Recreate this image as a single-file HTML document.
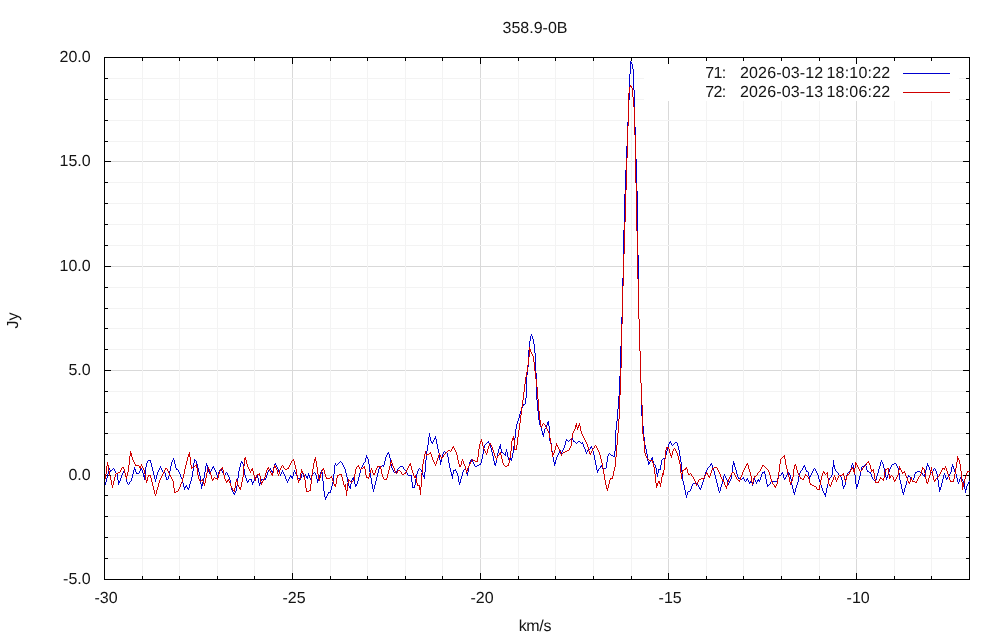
<!DOCTYPE html>
<html lang="en"><head><meta charset="utf-8"><title>358.9-0B</title>
<style>
html,body{margin:0;padding:0;background:#fff;}
body{width:1000px;height:640px;overflow:hidden;}
svg{display:block;will-change:transform;}
text{text-rendering:geometricPrecision;font-family:"Liberation Sans",Arial,sans-serif;font-size:16px;fill:#141414;letter-spacing:0px;}
</style></head><body>
<svg width="1000" height="640" viewBox="0 0 1000 640">
<rect width="1000" height="640" fill="#fff"/>

<g shape-rendering="crispEdges" stroke-width="1" fill="none">
<g stroke="#d9d9d9">
<line x1="292.5" y1="57.5" x2="292.5" y2="579.5"/>
<line x1="480.5" y1="57.5" x2="480.5" y2="579.5"/>
<line x1="668.5" y1="57.5" x2="668.5" y2="579.5"/>
<line x1="856.5" y1="57.5" x2="856.5" y2="579.5"/>
<line x1="104.5" y1="161.5" x2="969.5" y2="161.5"/>
<line x1="104.5" y1="266.5" x2="969.5" y2="266.5"/>
<line x1="104.5" y1="370.5" x2="969.5" y2="370.5"/>
<line x1="104.5" y1="475.5" x2="969.5" y2="475.5"/>
</g>
<g stroke="#f3f3f3">
<line x1="142.5" y1="57.5" x2="142.5" y2="579.5"/>
<line x1="179.5" y1="57.5" x2="179.5" y2="579.5"/>
<line x1="217.5" y1="57.5" x2="217.5" y2="579.5"/>
<line x1="254.5" y1="57.5" x2="254.5" y2="579.5"/>
<line x1="330.5" y1="57.5" x2="330.5" y2="579.5"/>
<line x1="367.5" y1="57.5" x2="367.5" y2="579.5"/>
<line x1="405.5" y1="57.5" x2="405.5" y2="579.5"/>
<line x1="442.5" y1="57.5" x2="442.5" y2="579.5"/>
<line x1="518.5" y1="57.5" x2="518.5" y2="579.5"/>
<line x1="555.5" y1="57.5" x2="555.5" y2="579.5"/>
<line x1="593.5" y1="57.5" x2="593.5" y2="579.5"/>
<line x1="631.5" y1="57.5" x2="631.5" y2="579.5"/>
<line x1="706.5" y1="57.5" x2="706.5" y2="579.5"/>
<line x1="743.5" y1="57.5" x2="743.5" y2="579.5"/>
<line x1="781.5" y1="57.5" x2="781.5" y2="579.5"/>
<line x1="819.5" y1="57.5" x2="819.5" y2="579.5"/>
<line x1="894.5" y1="57.5" x2="894.5" y2="579.5"/>
<line x1="931.5" y1="57.5" x2="931.5" y2="579.5"/>
<line x1="104.5" y1="558.5" x2="969.5" y2="558.5"/>
<line x1="104.5" y1="537.5" x2="969.5" y2="537.5"/>
<line x1="104.5" y1="516.5" x2="969.5" y2="516.5"/>
<line x1="104.5" y1="495.5" x2="969.5" y2="495.5"/>
<line x1="104.5" y1="454.5" x2="969.5" y2="454.5"/>
<line x1="104.5" y1="433.5" x2="969.5" y2="433.5"/>
<line x1="104.5" y1="412.5" x2="969.5" y2="412.5"/>
<line x1="104.5" y1="391.5" x2="969.5" y2="391.5"/>
<line x1="104.5" y1="349.5" x2="969.5" y2="349.5"/>
<line x1="104.5" y1="328.5" x2="969.5" y2="328.5"/>
<line x1="104.5" y1="308.5" x2="969.5" y2="308.5"/>
<line x1="104.5" y1="287.5" x2="969.5" y2="287.5"/>
<line x1="104.5" y1="245.5" x2="969.5" y2="245.5"/>
<line x1="104.5" y1="224.5" x2="969.5" y2="224.5"/>
<line x1="104.5" y1="203.5" x2="969.5" y2="203.5"/>
<line x1="104.5" y1="182.5" x2="969.5" y2="182.5"/>
<line x1="104.5" y1="141.5" x2="969.5" y2="141.5"/>
<line x1="104.5" y1="120.5" x2="969.5" y2="120.5"/>
<line x1="104.5" y1="99.5" x2="969.5" y2="99.5"/>
<line x1="104.5" y1="78.5" x2="969.5" y2="78.5"/>
</g>
<rect x="644" y="58" width="315" height="43" fill="#fff" stroke="none"/>
<line x1="903" y1="73.5" x2="950" y2="73.5" stroke="#0000d0"/>
<line x1="903" y1="92.5" x2="950" y2="92.5" stroke="#d00000"/>
<g stroke="#000">
<line x1="142.5" y1="579.5" x2="142.5" y2="576.0"/>
<line x1="142.5" y1="57.5" x2="142.5" y2="61.0"/>
<line x1="179.5" y1="579.5" x2="179.5" y2="576.0"/>
<line x1="179.5" y1="57.5" x2="179.5" y2="61.0"/>
<line x1="217.5" y1="579.5" x2="217.5" y2="576.0"/>
<line x1="217.5" y1="57.5" x2="217.5" y2="61.0"/>
<line x1="254.5" y1="579.5" x2="254.5" y2="576.0"/>
<line x1="254.5" y1="57.5" x2="254.5" y2="61.0"/>
<line x1="292.5" y1="579.5" x2="292.5" y2="573.0"/>
<line x1="292.5" y1="57.5" x2="292.5" y2="64.0"/>
<line x1="330.5" y1="579.5" x2="330.5" y2="576.0"/>
<line x1="330.5" y1="57.5" x2="330.5" y2="61.0"/>
<line x1="367.5" y1="579.5" x2="367.5" y2="576.0"/>
<line x1="367.5" y1="57.5" x2="367.5" y2="61.0"/>
<line x1="405.5" y1="579.5" x2="405.5" y2="576.0"/>
<line x1="405.5" y1="57.5" x2="405.5" y2="61.0"/>
<line x1="442.5" y1="579.5" x2="442.5" y2="576.0"/>
<line x1="442.5" y1="57.5" x2="442.5" y2="61.0"/>
<line x1="480.5" y1="579.5" x2="480.5" y2="573.0"/>
<line x1="480.5" y1="57.5" x2="480.5" y2="64.0"/>
<line x1="518.5" y1="579.5" x2="518.5" y2="576.0"/>
<line x1="518.5" y1="57.5" x2="518.5" y2="61.0"/>
<line x1="555.5" y1="579.5" x2="555.5" y2="576.0"/>
<line x1="555.5" y1="57.5" x2="555.5" y2="61.0"/>
<line x1="593.5" y1="579.5" x2="593.5" y2="576.0"/>
<line x1="593.5" y1="57.5" x2="593.5" y2="61.0"/>
<line x1="631.5" y1="579.5" x2="631.5" y2="576.0"/>
<line x1="631.5" y1="57.5" x2="631.5" y2="61.0"/>
<line x1="668.5" y1="579.5" x2="668.5" y2="573.0"/>
<line x1="668.5" y1="57.5" x2="668.5" y2="64.0"/>
<line x1="706.5" y1="579.5" x2="706.5" y2="576.0"/>
<line x1="706.5" y1="57.5" x2="706.5" y2="61.0"/>
<line x1="743.5" y1="579.5" x2="743.5" y2="576.0"/>
<line x1="743.5" y1="57.5" x2="743.5" y2="61.0"/>
<line x1="781.5" y1="579.5" x2="781.5" y2="576.0"/>
<line x1="781.5" y1="57.5" x2="781.5" y2="61.0"/>
<line x1="819.5" y1="579.5" x2="819.5" y2="576.0"/>
<line x1="819.5" y1="57.5" x2="819.5" y2="61.0"/>
<line x1="856.5" y1="579.5" x2="856.5" y2="573.0"/>
<line x1="856.5" y1="57.5" x2="856.5" y2="64.0"/>
<line x1="894.5" y1="579.5" x2="894.5" y2="576.0"/>
<line x1="894.5" y1="57.5" x2="894.5" y2="61.0"/>
<line x1="931.5" y1="579.5" x2="931.5" y2="576.0"/>
<line x1="931.5" y1="57.5" x2="931.5" y2="61.0"/>
<line x1="969.5" y1="579.5" x2="969.5" y2="576.0"/>
<line x1="969.5" y1="57.5" x2="969.5" y2="61.0"/>
<line x1="104.5" y1="558.5" x2="108.0" y2="558.5"/>
<line x1="969.5" y1="558.5" x2="966.0" y2="558.5"/>
<line x1="104.5" y1="537.5" x2="108.0" y2="537.5"/>
<line x1="969.5" y1="537.5" x2="966.0" y2="537.5"/>
<line x1="104.5" y1="516.5" x2="108.0" y2="516.5"/>
<line x1="969.5" y1="516.5" x2="966.0" y2="516.5"/>
<line x1="104.5" y1="495.5" x2="108.0" y2="495.5"/>
<line x1="969.5" y1="495.5" x2="966.0" y2="495.5"/>
<line x1="104.5" y1="475.5" x2="111.0" y2="475.5"/>
<line x1="969.5" y1="475.5" x2="963.0" y2="475.5"/>
<line x1="104.5" y1="454.5" x2="108.0" y2="454.5"/>
<line x1="969.5" y1="454.5" x2="966.0" y2="454.5"/>
<line x1="104.5" y1="433.5" x2="108.0" y2="433.5"/>
<line x1="969.5" y1="433.5" x2="966.0" y2="433.5"/>
<line x1="104.5" y1="412.5" x2="108.0" y2="412.5"/>
<line x1="969.5" y1="412.5" x2="966.0" y2="412.5"/>
<line x1="104.5" y1="391.5" x2="108.0" y2="391.5"/>
<line x1="969.5" y1="391.5" x2="966.0" y2="391.5"/>
<line x1="104.5" y1="370.5" x2="111.0" y2="370.5"/>
<line x1="969.5" y1="370.5" x2="963.0" y2="370.5"/>
<line x1="104.5" y1="349.5" x2="108.0" y2="349.5"/>
<line x1="969.5" y1="349.5" x2="966.0" y2="349.5"/>
<line x1="104.5" y1="328.5" x2="108.0" y2="328.5"/>
<line x1="969.5" y1="328.5" x2="966.0" y2="328.5"/>
<line x1="104.5" y1="308.5" x2="108.0" y2="308.5"/>
<line x1="969.5" y1="308.5" x2="966.0" y2="308.5"/>
<line x1="104.5" y1="287.5" x2="108.0" y2="287.5"/>
<line x1="969.5" y1="287.5" x2="966.0" y2="287.5"/>
<line x1="104.5" y1="266.5" x2="111.0" y2="266.5"/>
<line x1="969.5" y1="266.5" x2="963.0" y2="266.5"/>
<line x1="104.5" y1="245.5" x2="108.0" y2="245.5"/>
<line x1="969.5" y1="245.5" x2="966.0" y2="245.5"/>
<line x1="104.5" y1="224.5" x2="108.0" y2="224.5"/>
<line x1="969.5" y1="224.5" x2="966.0" y2="224.5"/>
<line x1="104.5" y1="203.5" x2="108.0" y2="203.5"/>
<line x1="969.5" y1="203.5" x2="966.0" y2="203.5"/>
<line x1="104.5" y1="182.5" x2="108.0" y2="182.5"/>
<line x1="969.5" y1="182.5" x2="966.0" y2="182.5"/>
<line x1="104.5" y1="161.5" x2="111.0" y2="161.5"/>
<line x1="969.5" y1="161.5" x2="963.0" y2="161.5"/>
<line x1="104.5" y1="141.5" x2="108.0" y2="141.5"/>
<line x1="969.5" y1="141.5" x2="966.0" y2="141.5"/>
<line x1="104.5" y1="120.5" x2="108.0" y2="120.5"/>
<line x1="969.5" y1="120.5" x2="966.0" y2="120.5"/>
<line x1="104.5" y1="99.5" x2="108.0" y2="99.5"/>
<line x1="969.5" y1="99.5" x2="966.0" y2="99.5"/>
<line x1="104.5" y1="78.5" x2="108.0" y2="78.5"/>
<line x1="969.5" y1="78.5" x2="966.0" y2="78.5"/>
</g>
<rect x="104.5" y="57.5" width="865.0" height="522.0" stroke="#000"/>
<path stroke="#0000d0" d="M105.5 482v3M106.5 478v4M107.5 474v4M108.5 470v4M109.5 468v2M110.5 470v2M111.5 470v1M112.5 469v1M113.5 468v1M114.5 469v2M115.5 471v2M116.5 473v1M117.5 474v6M118.5 480v5M119.5 481v2M120.5 478v3M121.5 475v3M122.5 473v2M123.5 471v2M124.5 472v1M125.5 473v4M126.5 477v5M127.5 482v2M128.5 484v1M129.5 482v2M130.5 481v1M131.5 478v3M132.5 474v4M133.5 470v4M134.5 467v3M135.5 469v3M136.5 472v2M137.5 473v1M138.5 473v1M139.5 471v2M140.5 469v2M141.5 468v2M142.5 470v3M143.5 473v4M144.5 475v5M145.5 467v8M146.5 463v4M147.5 461v2M148.5 460v1M149.5 460v1M150.5 460v3M151.5 463v4M152.5 467v4M153.5 471v4M154.5 475v4M155.5 479v3M156.5 475v4M157.5 472v3M158.5 470v2M159.5 468v2M160.5 466v2M161.5 468v2M162.5 470v2M163.5 472v1M164.5 472v1M165.5 473v4M166.5 477v3M167.5 479v1M168.5 476v3M169.5 471v5M170.5 466v5M171.5 462v4M172.5 460v2M173.5 458v2M174.5 460v4M175.5 464v4M176.5 468v2M177.5 469v1M178.5 470v2M179.5 472v2M180.5 474v3M181.5 477v2M182.5 479v4M183.5 483v4M184.5 487v3M185.5 486v2M186.5 485v2M187.5 487v2M188.5 488v2M189.5 484v4M190.5 481v3M191.5 477v4M192.5 471v6M193.5 463v8M194.5 459v4M195.5 460v1M196.5 461v3M197.5 464v4M198.5 468v4M199.5 472v4M200.5 476v8M201.5 484v5M202.5 482v4M203.5 478v4M204.5 472v6M205.5 466v6M206.5 463v3M207.5 465v4M208.5 469v3M209.5 472v2M210.5 471v1M211.5 469v2M212.5 467v2M213.5 466v2M214.5 468v2M215.5 470v2M216.5 472v3M217.5 475v3M218.5 472v4M219.5 470v2M220.5 470v1M221.5 469v2M222.5 471v2M223.5 473v2M224.5 475v1M225.5 473v2M226.5 472v1M227.5 473v2M228.5 475v2M229.5 477v3M230.5 480v6M231.5 486v4M232.5 490v2M233.5 492v2M234.5 493v2M235.5 491v2M236.5 486v5M237.5 478v8M238.5 471v7M239.5 467v4M240.5 463v4M241.5 461v2M242.5 462v2M243.5 464v5M244.5 469v6M245.5 475v3M246.5 478v3M247.5 481v2M248.5 480v2M249.5 479v1M250.5 479v1M251.5 479v3M252.5 482v3M253.5 481v2M254.5 479v2M255.5 477v2M256.5 476v1M257.5 475v3M258.5 478v5M259.5 483v3M260.5 481v3M261.5 479v2M262.5 479v1M263.5 479v1M264.5 479v1M265.5 478v2M266.5 475v3M267.5 472v3M268.5 470v2M269.5 469v1M270.5 468v2M271.5 470v2M272.5 471v3M273.5 467v4M274.5 464v3M275.5 463v2M276.5 465v2M277.5 467v2M278.5 469v3M279.5 472v2M280.5 474v2M281.5 472v2M282.5 470v2M283.5 472v2M284.5 474v2M285.5 476v3M286.5 479v2M287.5 481v2M288.5 479v2M289.5 477v2M290.5 475v2M291.5 476v2M292.5 476v3M293.5 472v4M294.5 470v2M295.5 472v2M296.5 474v2M297.5 476v2M298.5 478v1M299.5 478v1M300.5 478v2M301.5 474v4M302.5 472v2M303.5 474v3M304.5 476v3M305.5 474v2M306.5 476v2M307.5 476v3M308.5 473v3M309.5 475v3M310.5 478v2M311.5 476v2M312.5 474v2M313.5 473v1M314.5 472v1M315.5 473v2M316.5 475v4M317.5 479v4M318.5 478v3M319.5 475v3M320.5 472v3M321.5 470v2M322.5 472v9M323.5 481v10M324.5 491v6M325.5 497v3M326.5 496v2M327.5 494v2M328.5 492v2M329.5 492v1M330.5 490v3M331.5 486v4M332.5 482v4M333.5 474v8M334.5 465v9M335.5 463v2M336.5 465v1M337.5 464v1M338.5 463v1M339.5 462v1M340.5 461v1M341.5 462v1M342.5 463v2M343.5 465v2M344.5 467v2M345.5 469v4M346.5 473v4M347.5 477v5M348.5 482v4M349.5 486v2M350.5 484v5M351.5 480v4M352.5 478v2M353.5 477v3M354.5 480v4M355.5 484v3M356.5 484v2M357.5 481v3M358.5 477v4M359.5 473v4M360.5 469v4M361.5 467v2M362.5 465v2M363.5 463v2M364.5 462v1M365.5 458v4M366.5 455v3M367.5 457v2M368.5 459v5M369.5 464v8M370.5 472v6M371.5 478v6M372.5 484v5M373.5 489v3M374.5 485v4M375.5 481v4M376.5 477v4M377.5 473v4M378.5 469v4M379.5 467v2M380.5 466v1M381.5 466v1M382.5 465v1M383.5 465v2M384.5 461v4M385.5 457v4M386.5 455v2M387.5 453v2M388.5 452v2M389.5 454v4M390.5 458v6M391.5 464v4M392.5 468v2M393.5 470v2M394.5 472v1M395.5 472v1M396.5 471v2M397.5 469v2M398.5 468v1M399.5 467v1M400.5 466v1M401.5 466v1M402.5 466v1M403.5 467v2M404.5 469v1M405.5 470v1M406.5 471v2M407.5 473v2M408.5 475v1M409.5 475v1M410.5 475v1M411.5 475v7M412.5 482v6M413.5 487v1M414.5 485v3M415.5 479v6M416.5 474v5M417.5 471v3M418.5 469v2M419.5 468v1M420.5 469v1M421.5 470v2M422.5 472v3M423.5 475v2M424.5 472v7M425.5 460v12M426.5 451v9M427.5 445v6M428.5 437v8M429.5 433v4M430.5 437v4M431.5 441v2M432.5 442v2M433.5 440v2M434.5 438v2M435.5 436v3M436.5 439v5M437.5 444v5M438.5 449v4M439.5 453v7M440.5 460v5M441.5 457v5M442.5 454v3M443.5 452v2M444.5 451v1M445.5 452v1M446.5 452v1M447.5 453v4M448.5 457v6M449.5 463v5M450.5 468v4M451.5 472v4M452.5 474v5M453.5 470v4M454.5 470v1M455.5 469v2M456.5 471v2M457.5 473v3M458.5 476v6M459.5 482v3M460.5 479v4M461.5 476v3M462.5 472v4M463.5 470v2M464.5 469v1M465.5 468v2M466.5 470v4M467.5 472v4M468.5 466v6M469.5 462v4M470.5 460v2M471.5 459v1M472.5 460v2M473.5 462v2M474.5 464v2M475.5 466v1M476.5 466v1M477.5 465v1M478.5 465v1M479.5 464v1M480.5 463v2M481.5 459v4M482.5 454v5M483.5 448v6M484.5 445v3M485.5 444v1M486.5 443v1M487.5 442v1M488.5 441v2M489.5 443v2M490.5 445v3M491.5 448v4M492.5 452v4M493.5 456v5M494.5 461v4M495.5 463v3M496.5 458v5M497.5 453v5M498.5 449v4M499.5 446v3M500.5 444v5M501.5 449v4M502.5 452v1M503.5 453v1M504.5 454v1M505.5 452v4M506.5 449v3M507.5 452v5M508.5 457v3M509.5 459v1M510.5 458v2M511.5 458v3M512.5 453v5M513.5 446v7M514.5 438v8M515.5 429v9M516.5 424v5M517.5 421v3M518.5 418v3M519.5 414v4M520.5 411v3M521.5 408v3M522.5 406v2M523.5 404v2M524.5 404v1M525.5 398v6M526.5 375v23M527.5 367v8M528.5 350v17M529.5 341v9M530.5 336v5M531.5 334v2M532.5 336v3M533.5 339v5M534.5 344v9M535.5 353v20M536.5 373v27M537.5 400v11M538.5 411v9M539.5 420v5M540.5 425v2M541.5 427v4M542.5 431v4M543.5 433v4M544.5 429v4M545.5 428v1M546.5 425v3M547.5 422v3M548.5 421v5M549.5 426v15M550.5 441v2M551.5 443v8M552.5 451v6M553.5 457v5M554.5 462v4M555.5 460v4M556.5 457v3M557.5 455v2M558.5 453v2M559.5 451v2M560.5 450v2M561.5 452v2M562.5 450v2M563.5 448v2M564.5 445v3M565.5 441v4M566.5 439v2M567.5 440v1M568.5 441v1M569.5 440v1M570.5 439v1M571.5 438v1M572.5 437v3M573.5 440v2M574.5 441v1M575.5 442v1M576.5 443v1M577.5 442v1M578.5 441v1M579.5 441v1M580.5 442v1M581.5 443v1M582.5 442v2M583.5 444v3M584.5 447v2M585.5 449v3M586.5 452v2M587.5 450v2M588.5 449v1M589.5 449v1M590.5 447v2M591.5 446v2M592.5 448v3M593.5 451v4M594.5 455v5M595.5 460v5M596.5 465v5M597.5 470v3M598.5 469v2M599.5 468v1M600.5 466v2M601.5 465v2M602.5 467v2M603.5 469v1M604.5 468v1M605.5 468v1M606.5 462v6M607.5 456v6M608.5 454v2M609.5 453v1M610.5 454v1M611.5 455v1M612.5 455v1M613.5 456v1M614.5 451v6M615.5 430v21M616.5 421v9M617.5 409v12M618.5 396v13M619.5 376v20M620.5 346v30M621.5 317v29M622.5 278v39M623.5 230v48M624.5 194v36M625.5 170v24M626.5 146v24M627.5 122v24M628.5 100v22M629.5 74v26M630.5 61v13M631.5 62v2M632.5 64v5M633.5 69v21M634.5 90v37M635.5 127v32M636.5 159v32M637.5 191v64M638.5 255v64M639.5 319v32M640.5 351v32M641.5 383v33M642.5 416v10M643.5 426v11M644.5 437v8M645.5 445v4M646.5 449v5M647.5 454v7M648.5 461v4M649.5 462v2M650.5 460v2M651.5 458v2M652.5 457v4M653.5 461v3M654.5 464v1M655.5 465v3M656.5 468v6M657.5 473v4M658.5 469v4M659.5 469v1M660.5 465v5M661.5 460v5M662.5 459v1M663.5 458v1M664.5 458v2M665.5 455v3M666.5 451v4M667.5 447v4M668.5 444v3M669.5 442v2M670.5 441v2M671.5 443v2M672.5 445v1M673.5 444v1M674.5 443v1M675.5 442v1M676.5 442v1M677.5 443v3M678.5 446v4M679.5 450v6M680.5 456v6M681.5 462v10M682.5 472v9M683.5 481v4M684.5 485v5M685.5 490v5M686.5 495v3M687.5 492v3M688.5 491v1M689.5 491v1M690.5 489v2M691.5 486v3M692.5 484v2M693.5 483v1M694.5 483v1M695.5 482v1M696.5 483v1M697.5 484v1M698.5 485v2M699.5 487v2M700.5 488v2M701.5 485v3M702.5 482v3M703.5 479v3M704.5 475v4M705.5 472v3M706.5 470v2M707.5 468v2M708.5 467v1M709.5 466v1M710.5 464v2M711.5 463v2M712.5 465v3M713.5 468v3M714.5 471v4M715.5 475v4M716.5 479v4M717.5 483v4M718.5 487v4M719.5 491v2M720.5 487v4M721.5 484v3M722.5 480v4M723.5 476v4M724.5 474v2M725.5 476v2M726.5 478v2M727.5 480v3M728.5 483v2M729.5 481v2M730.5 479v2M731.5 473v6M732.5 465v8M733.5 461v4M734.5 463v4M735.5 467v3M736.5 470v4M737.5 474v3M738.5 477v2M739.5 478v1M740.5 479v1M741.5 479v1M742.5 478v1M743.5 477v2M744.5 479v2M745.5 481v1M746.5 479v2M747.5 478v2M748.5 480v2M749.5 482v2M750.5 481v2M751.5 480v3M752.5 483v3M753.5 480v4M754.5 478v2M755.5 480v2M756.5 482v2M757.5 480v2M758.5 479v2M759.5 480v2M760.5 477v3M761.5 474v3M762.5 472v2M763.5 472v1M764.5 471v3M765.5 474v5M766.5 479v5M767.5 484v3M768.5 485v1M769.5 484v1M770.5 482v2M771.5 481v1M772.5 481v1M773.5 481v1M774.5 481v1M775.5 481v1M776.5 481v1M777.5 478v4M778.5 475v3M779.5 475v1M780.5 475v1M781.5 473v2M782.5 472v2M783.5 474v4M784.5 478v2M785.5 477v2M786.5 475v2M787.5 473v2M788.5 472v1M789.5 473v2M790.5 475v4M791.5 479v6M792.5 485v4M793.5 489v4M794.5 492v3M795.5 488v4M796.5 485v3M797.5 482v3M798.5 476v6M799.5 473v3M800.5 471v2M801.5 470v1M802.5 468v2M803.5 466v2M804.5 465v2M805.5 467v3M806.5 470v2M807.5 471v1M808.5 472v4M809.5 476v3M810.5 475v2M811.5 473v2M812.5 471v2M813.5 469v2M814.5 468v1M815.5 469v2M816.5 471v2M817.5 473v2M818.5 475v4M819.5 479v3M820.5 482v3M821.5 485v3M822.5 488v3M823.5 491v2M824.5 493v2M825.5 493v4M826.5 488v5M827.5 484v4M828.5 480v4M829.5 478v2M830.5 477v1M831.5 475v2M832.5 467v8M833.5 460v7M834.5 465v4M835.5 469v2M836.5 471v1M837.5 472v1M838.5 473v2M839.5 475v1M840.5 476v1M841.5 477v3M842.5 480v6M843.5 486v3M844.5 485v2M845.5 479v6M846.5 475v4M847.5 473v2M848.5 472v1M849.5 471v1M850.5 469v2M851.5 465v4M852.5 463v2M853.5 465v4M854.5 469v6M855.5 475v9M856.5 484v5M857.5 484v3M858.5 480v4M859.5 476v4M860.5 471v5M861.5 467v4M862.5 466v1M863.5 466v1M864.5 465v1M865.5 464v2M866.5 466v4M867.5 470v2M868.5 471v1M869.5 472v1M870.5 472v2M871.5 474v3M872.5 477v2M873.5 479v1M874.5 480v1M875.5 480v2M876.5 476v4M877.5 473v3M878.5 469v4M879.5 466v3M880.5 462v4M881.5 460v2M882.5 462v2M883.5 464v4M884.5 468v4M885.5 472v5M886.5 477v3M887.5 475v3M888.5 472v3M889.5 469v3M890.5 467v2M891.5 465v2M892.5 464v1M893.5 464v1M894.5 463v1M895.5 463v1M896.5 464v2M897.5 466v2M898.5 468v5M899.5 473v7M900.5 480v4M901.5 484v5M902.5 489v4M903.5 492v3M904.5 488v4M905.5 485v3M906.5 481v4M907.5 477v4M908.5 475v2M909.5 476v1M910.5 477v2M911.5 479v1M912.5 480v1M913.5 478v2M914.5 474v4M915.5 472v2M916.5 472v1M917.5 471v1M918.5 471v1M919.5 471v1M920.5 472v1M921.5 472v1M922.5 473v2M923.5 475v1M924.5 474v3M925.5 470v4M926.5 466v4M927.5 463v3M928.5 465v2M929.5 467v3M930.5 470v2M931.5 472v1M932.5 471v1M933.5 469v2M934.5 468v1M935.5 469v2M936.5 471v3M937.5 474v6M938.5 480v7M939.5 487v5M940.5 487v3M941.5 483v4M942.5 479v4M943.5 475v4M944.5 473v2M945.5 475v3M946.5 478v2M947.5 477v2M948.5 476v1M949.5 474v2M950.5 472v2M951.5 467v5M952.5 464v3M953.5 466v3M954.5 469v3M955.5 472v2M956.5 474v4M957.5 478v4M958.5 482v2M959.5 479v3M960.5 477v2M961.5 477v2M962.5 479v2M963.5 481v2M964.5 483v6M965.5 489v4M966.5 486v4M967.5 484v2M968.5 482v2M969.5 481v1"/>
<path stroke="#d00000" d="M105.5 474v5M106.5 466v8M107.5 462v4M108.5 465v6M109.5 471v5M110.5 476v4M111.5 480v5M112.5 485v3M113.5 481v4M114.5 477v4M115.5 474v3M116.5 473v1M117.5 473v1M118.5 472v1M119.5 472v1M120.5 470v2M121.5 468v2M122.5 467v1M123.5 467v2M124.5 469v4M125.5 473v4M126.5 476v3M127.5 472v4M128.5 465v7M129.5 456v9M130.5 451v5M131.5 453v4M132.5 457v3M133.5 460v2M134.5 462v2M135.5 464v2M136.5 465v1M137.5 465v1M138.5 465v1M139.5 466v2M140.5 466v3M141.5 464v2M142.5 466v2M143.5 468v2M144.5 470v4M145.5 474v6M146.5 480v3M147.5 477v4M148.5 475v2M149.5 475v1M150.5 475v3M151.5 478v4M152.5 482v4M153.5 486v4M154.5 490v4M155.5 494v2M156.5 490v4M157.5 487v3M158.5 483v4M159.5 480v3M160.5 478v2M161.5 476v2M162.5 474v2M163.5 472v2M164.5 470v2M165.5 468v2M166.5 468v1M167.5 469v2M168.5 471v2M169.5 473v2M170.5 475v2M171.5 477v2M172.5 479v2M173.5 481v7M174.5 488v5M175.5 492v1M176.5 491v1M177.5 491v1M178.5 489v2M179.5 487v2M180.5 484v3M181.5 482v2M182.5 478v4M183.5 474v4M184.5 469v5M185.5 465v4M186.5 461v4M187.5 457v4M188.5 454v3M189.5 452v5M190.5 457v8M191.5 465v4M192.5 467v1M193.5 467v1M194.5 466v1M195.5 465v1M196.5 464v4M197.5 468v7M198.5 475v4M199.5 479v2M200.5 481v1M201.5 480v1M202.5 479v2M203.5 481v3M204.5 483v3M205.5 478v5M206.5 473v5M207.5 469v4M208.5 467v2M209.5 469v3M210.5 472v3M211.5 475v4M212.5 479v2M213.5 478v2M214.5 477v1M215.5 478v1M216.5 478v1M217.5 478v2M218.5 474v4M219.5 471v3M220.5 469v2M221.5 468v1M222.5 467v3M223.5 470v5M224.5 475v4M225.5 479v2M226.5 481v2M227.5 480v2M228.5 479v2M229.5 481v2M230.5 483v3M231.5 486v2M232.5 488v2M233.5 490v1M234.5 488v4M235.5 482v6M236.5 479v3M237.5 481v4M238.5 485v2M239.5 487v2M240.5 487v3M241.5 482v5M242.5 477v5M243.5 466v11M244.5 458v8M245.5 457v3M246.5 460v4M247.5 464v3M248.5 467v2M249.5 469v2M250.5 471v2M251.5 469v2M252.5 468v3M253.5 471v4M254.5 475v4M255.5 478v3M256.5 475v3M257.5 474v1M258.5 474v1M259.5 473v3M260.5 476v6M261.5 482v3M262.5 481v2M263.5 479v2M264.5 477v2M265.5 473v4M266.5 470v3M267.5 468v2M268.5 467v2M269.5 469v2M270.5 471v2M271.5 473v2M272.5 473v3M273.5 468v5M274.5 465v3M275.5 466v2M276.5 468v2M277.5 470v4M278.5 474v2M279.5 470v4M280.5 468v2M281.5 466v2M282.5 465v1M283.5 466v2M284.5 468v1M285.5 469v1M286.5 469v1M287.5 468v1M288.5 467v2M289.5 465v2M290.5 463v2M291.5 461v2M292.5 460v1M293.5 459v2M294.5 461v4M295.5 465v4M296.5 469v6M297.5 475v5M298.5 480v3M299.5 479v2M300.5 473v6M301.5 469v4M302.5 471v2M303.5 473v2M304.5 475v5M305.5 480v8M306.5 488v4M307.5 491v1M308.5 491v1M309.5 490v1M310.5 484v7M311.5 475v9M312.5 469v6M313.5 463v6M314.5 459v4M315.5 457v4M316.5 461v6M317.5 467v7M318.5 474v5M319.5 478v3M320.5 474v4M321.5 471v3M322.5 469v2M323.5 468v2M324.5 470v4M325.5 474v3M326.5 477v2M327.5 478v1M328.5 478v1M329.5 478v1M330.5 477v1M331.5 476v2M332.5 478v3M333.5 481v3M334.5 484v2M335.5 484v3M336.5 478v6M337.5 475v3M338.5 475v1M339.5 474v1M340.5 474v1M341.5 474v3M342.5 477v4M343.5 481v4M344.5 485v2M345.5 484v6M346.5 490v6M347.5 483v8M348.5 479v4M349.5 480v1M350.5 481v1M351.5 482v1M352.5 481v1M353.5 480v1M354.5 474v6M355.5 469v5M356.5 467v2M357.5 466v1M358.5 465v2M359.5 467v2M360.5 469v1M361.5 468v1M362.5 468v1M363.5 467v1M364.5 466v3M365.5 469v6M366.5 475v3M367.5 477v1M368.5 477v2M369.5 473v4M370.5 470v3M371.5 468v2M372.5 470v3M373.5 473v2M374.5 473v2M375.5 470v3M376.5 468v2M377.5 466v2M378.5 466v1M379.5 466v1M380.5 466v3M381.5 469v5M382.5 474v3M383.5 477v2M384.5 479v1M385.5 479v1M386.5 478v2M387.5 474v4M388.5 470v4M389.5 466v4M390.5 462v4M391.5 460v3M392.5 463v3M393.5 466v2M394.5 468v3M395.5 471v2M396.5 473v1M397.5 471v2M398.5 470v1M399.5 470v1M400.5 471v1M401.5 472v2M402.5 474v1M403.5 474v1M404.5 473v1M405.5 472v2M406.5 470v2M407.5 468v2M408.5 466v2M409.5 464v2M410.5 463v3M411.5 466v4M412.5 470v3M413.5 473v3M414.5 476v2M415.5 475v3M416.5 478v5M417.5 483v3M418.5 485v1M419.5 485v5M420.5 487v8M421.5 473v14M422.5 464v9M423.5 459v5M424.5 454v5M425.5 451v3M426.5 454v2M427.5 454v1M428.5 454v1M429.5 453v1M430.5 452v2M431.5 454v3M432.5 457v3M433.5 460v2M434.5 462v2M435.5 464v2M436.5 461v3M437.5 458v3M438.5 455v3M439.5 453v2M440.5 455v2M441.5 457v2M442.5 457v1M443.5 455v2M444.5 454v1M445.5 453v1M446.5 452v1M447.5 451v1M448.5 450v1M449.5 450v1M450.5 451v1M451.5 449v2M452.5 447v2M453.5 446v2M454.5 448v2M455.5 450v2M456.5 452v3M457.5 455v5M458.5 460v4M459.5 464v3M460.5 465v2M461.5 461v4M462.5 459v2M463.5 461v3M464.5 464v2M465.5 466v4M466.5 470v3M467.5 468v3M468.5 466v2M469.5 464v2M470.5 462v2M471.5 460v2M472.5 459v1M473.5 460v1M474.5 460v1M475.5 461v1M476.5 461v1M477.5 457v5M478.5 449v8M479.5 444v5M480.5 441v3M481.5 439v3M482.5 442v4M483.5 446v3M484.5 449v2M485.5 451v2M486.5 453v2M487.5 449v4M488.5 446v3M489.5 444v2M490.5 443v2M491.5 445v2M492.5 447v3M493.5 450v3M494.5 453v3M495.5 456v2M496.5 458v2M497.5 456v2M498.5 455v1M499.5 453v2M500.5 452v3M501.5 455v4M502.5 459v4M503.5 463v2M504.5 465v1M505.5 466v1M506.5 466v1M507.5 465v1M508.5 463v3M509.5 458v5M510.5 451v7M511.5 441v10M512.5 438v3M513.5 436v4M514.5 440v10M515.5 449v1M516.5 445v5M517.5 437v8M518.5 430v7M519.5 423v7M520.5 415v8M521.5 407v8M522.5 400v7M523.5 392v8M524.5 384v8M525.5 377v7M526.5 372v5M527.5 365v7M528.5 357v8M529.5 347v10M530.5 349v3M531.5 352v2M532.5 354v2M533.5 356v6M534.5 362v9M535.5 371v8M536.5 379v8M537.5 387v12M538.5 399v12M539.5 411v9M540.5 420v6M541.5 426v2M542.5 424v2M543.5 423v1M544.5 424v1M545.5 425v2M546.5 427v2M547.5 429v2M548.5 431v2M549.5 433v5M550.5 438v6M551.5 444v8M552.5 452v5M553.5 453v2M554.5 450v3M555.5 446v4M556.5 443v3M557.5 445v2M558.5 447v2M559.5 449v2M560.5 451v3M561.5 454v2M562.5 453v1M563.5 452v1M564.5 452v1M565.5 451v1M566.5 451v1M567.5 450v1M568.5 450v1M569.5 448v2M570.5 446v2M571.5 438v8M572.5 433v5M573.5 431v2M574.5 429v2M575.5 425v4M576.5 423v4M577.5 427v3M578.5 425v3M579.5 423v3M580.5 426v5M581.5 431v3M582.5 434v2M583.5 436v2M584.5 438v2M585.5 440v2M586.5 442v2M587.5 444v3M588.5 447v4M589.5 451v3M590.5 453v2M591.5 451v2M592.5 449v2M593.5 448v1M594.5 446v2M595.5 445v1M596.5 446v2M597.5 448v2M598.5 450v2M599.5 452v3M600.5 455v4M601.5 459v4M602.5 463v5M603.5 468v6M604.5 474v6M605.5 480v5M606.5 485v4M607.5 488v3M608.5 484v4M609.5 480v4M610.5 478v2M611.5 478v1M612.5 476v3M613.5 471v5M614.5 467v4M615.5 457v10M616.5 445v12M617.5 433v12M618.5 419v14M619.5 395v24M620.5 368v27M621.5 324v44M622.5 286v38M623.5 254v32M624.5 222v32M625.5 190v32M626.5 158v32M627.5 126v32M628.5 93v33M629.5 87v6M630.5 85v2M631.5 86v2M632.5 88v9M633.5 97v10M634.5 107v28M635.5 135v48M636.5 183v48M637.5 231v48M638.5 279v40M639.5 319v32M640.5 351v32M641.5 383v22M642.5 405v29M643.5 434v7M644.5 441v12M645.5 453v3M646.5 456v2M647.5 458v1M648.5 459v1M649.5 460v1M650.5 460v1M651.5 460v1M652.5 460v3M653.5 463v4M654.5 467v7M655.5 474v9M656.5 483v5M657.5 483v3M658.5 481v2M659.5 481v3M660.5 483v4M661.5 477v6M662.5 473v4M663.5 470v5M664.5 459v11M665.5 450v9M666.5 447v3M667.5 447v1M668.5 447v2M669.5 449v4M670.5 453v3M671.5 455v3M672.5 451v4M673.5 449v2M674.5 448v1M675.5 449v2M676.5 451v2M677.5 453v3M678.5 456v4M679.5 460v4M680.5 464v9M681.5 473v6M682.5 470v4M683.5 470v1M684.5 469v1M685.5 468v2M686.5 467v2M687.5 469v4M688.5 473v2M689.5 474v1M690.5 473v1M691.5 474v2M692.5 476v1M693.5 477v2M694.5 479v2M695.5 481v3M696.5 484v2M697.5 482v2M698.5 480v2M699.5 479v1M700.5 479v1M701.5 478v1M702.5 478v1M703.5 478v2M704.5 476v2M705.5 474v2M706.5 472v2M707.5 473v2M708.5 475v2M709.5 476v2M710.5 473v3M711.5 470v3M712.5 468v2M713.5 468v1M714.5 467v1M715.5 467v1M716.5 467v1M717.5 468v2M718.5 470v2M719.5 472v2M720.5 474v3M721.5 477v2M722.5 479v2M723.5 480v2M724.5 482v3M725.5 485v2M726.5 486v3M727.5 482v4M728.5 479v3M729.5 477v2M730.5 475v2M731.5 473v2M732.5 472v1M733.5 472v1M734.5 473v2M735.5 475v2M736.5 477v2M737.5 479v1M738.5 480v1M739.5 480v2M740.5 477v3M741.5 475v2M742.5 472v3M743.5 470v2M744.5 468v2M745.5 466v2M746.5 464v2M747.5 463v2M748.5 465v4M749.5 469v3M750.5 472v4M751.5 476v6M752.5 482v3M753.5 478v4M754.5 476v2M755.5 476v1M756.5 475v1M757.5 473v2M758.5 472v1M759.5 471v1M760.5 469v2M761.5 467v2M762.5 465v2M763.5 465v1M764.5 466v1M765.5 467v1M766.5 468v1M767.5 469v1M768.5 470v2M769.5 472v3M770.5 475v4M771.5 479v3M772.5 482v2M773.5 484v1M774.5 485v2M775.5 486v2M776.5 484v2M777.5 479v5M778.5 472v7M779.5 464v8M780.5 459v5M781.5 458v1M782.5 457v1M783.5 456v1M784.5 455v4M785.5 459v6M786.5 465v4M787.5 469v4M788.5 473v4M789.5 477v5M790.5 482v3M791.5 481v2M792.5 477v4M793.5 469v8M794.5 465v4M795.5 464v2M796.5 466v4M797.5 470v3M798.5 473v2M799.5 475v2M800.5 477v2M801.5 478v1M802.5 479v1M803.5 478v2M804.5 476v2M805.5 474v2M806.5 475v1M807.5 476v1M808.5 477v2M809.5 479v4M810.5 483v2M811.5 484v1M812.5 485v1M813.5 485v1M814.5 486v1M815.5 486v1M816.5 487v2M817.5 489v1M818.5 489v1M819.5 485v5M820.5 480v5M821.5 476v4M822.5 473v3M823.5 471v2M824.5 472v2M825.5 474v1M826.5 473v1M827.5 472v6M828.5 478v6M829.5 484v2M830.5 485v2M831.5 482v3M832.5 480v2M833.5 477v3M834.5 475v2M835.5 477v3M836.5 480v2M837.5 478v2M838.5 476v2M839.5 475v1M840.5 475v1M841.5 475v1M842.5 474v1M843.5 473v3M844.5 476v4M845.5 480v2M846.5 476v4M847.5 474v2M848.5 474v1M849.5 472v2M850.5 470v2M851.5 468v2M852.5 467v2M853.5 469v3M854.5 468v6M855.5 462v6M856.5 463v2M857.5 465v2M858.5 467v2M859.5 469v2M860.5 471v1M861.5 470v1M862.5 468v2M863.5 467v1M864.5 466v1M865.5 465v1M866.5 463v2M867.5 462v1M868.5 461v2M869.5 463v2M870.5 465v4M871.5 469v3M872.5 470v1M873.5 469v4M874.5 473v6M875.5 479v4M876.5 482v1M877.5 482v1M878.5 481v2M879.5 479v2M880.5 477v2M881.5 478v1M882.5 479v1M883.5 478v3M884.5 472v6M885.5 469v3M886.5 469v1M887.5 468v1M888.5 468v6M889.5 474v5M890.5 476v2M891.5 475v1M892.5 476v1M893.5 477v3M894.5 480v2M895.5 479v2M896.5 477v2M897.5 475v2M898.5 470v5M899.5 466v4M900.5 468v2M901.5 470v2M902.5 472v2M903.5 472v1M904.5 471v2M905.5 473v3M906.5 476v2M907.5 478v3M908.5 481v2M909.5 482v2M910.5 479v3M911.5 477v3M912.5 480v2M913.5 481v1M914.5 481v1M915.5 482v1M916.5 481v2M917.5 479v2M918.5 477v2M919.5 476v1M920.5 474v2M921.5 470v4M922.5 467v3M923.5 468v1M924.5 469v4M925.5 473v6M926.5 479v4M927.5 482v2M928.5 478v4M929.5 475v3M930.5 470v5M931.5 467v4M932.5 471v5M933.5 476v4M934.5 480v2M935.5 479v2M936.5 478v1M937.5 477v1M938.5 476v1M939.5 474v2M940.5 472v2M941.5 470v2M942.5 468v2M943.5 468v1M944.5 468v2M945.5 466v2M946.5 468v3M947.5 471v3M948.5 474v3M949.5 477v3M950.5 480v2M951.5 481v1M952.5 481v1M953.5 479v3M954.5 474v5M955.5 468v6M956.5 462v6M957.5 456v6M958.5 458v2M959.5 460v4M960.5 464v7M961.5 471v11M962.5 482v8M963.5 483v4M964.5 479v4M965.5 476v3M966.5 473v3M967.5 471v2M968.5 471v1M969.5 471v1"/>
</g>
<text transform="translate(535,33)" text-anchor="middle">358.9-0B</text>
<text transform="translate(90.7,62)" text-anchor="end">20.0</text>
<text transform="translate(90.7,166)" text-anchor="end">15.0</text>
<text transform="translate(90.7,271)" text-anchor="end">10.0</text>
<text transform="translate(90.7,375)" text-anchor="end">5.0</text>
<text transform="translate(90.7,480)" text-anchor="end">0.0</text>
<text transform="translate(90.7,584)" text-anchor="end">-5.0</text>
<text transform="translate(106,603)" text-anchor="middle">-30</text>
<text transform="translate(294.043,603)" text-anchor="middle">-25</text>
<text transform="translate(482.087,603)" text-anchor="middle">-20</text>
<text transform="translate(670.13,603)" text-anchor="middle">-15</text>
<text transform="translate(858.174,603)" text-anchor="middle">-10</text>
<text transform="translate(534.9,631)" text-anchor="middle" style="letter-spacing:-0.35px">km/s</text>
<text transform="translate(18,320.6) rotate(-90)" text-anchor="middle">Jy</text>
<text transform="translate(705.2,78)" text-anchor="start" style="letter-spacing:-0.6px">71:</text>
<text transform="translate(740,78)" text-anchor="start" style="letter-spacing:0.15px">2026-03-12</text>
<text transform="translate(890.4,78)" text-anchor="end" style="letter-spacing:0.2px">18:10:22</text>
<text transform="translate(705.2,97)" text-anchor="start" style="letter-spacing:-0.6px">72:</text>
<text transform="translate(740,97)" text-anchor="start" style="letter-spacing:0.15px">2026-03-13</text>
<text transform="translate(890.4,97)" text-anchor="end" style="letter-spacing:0.2px">18:06:22</text>
</svg></body></html>
